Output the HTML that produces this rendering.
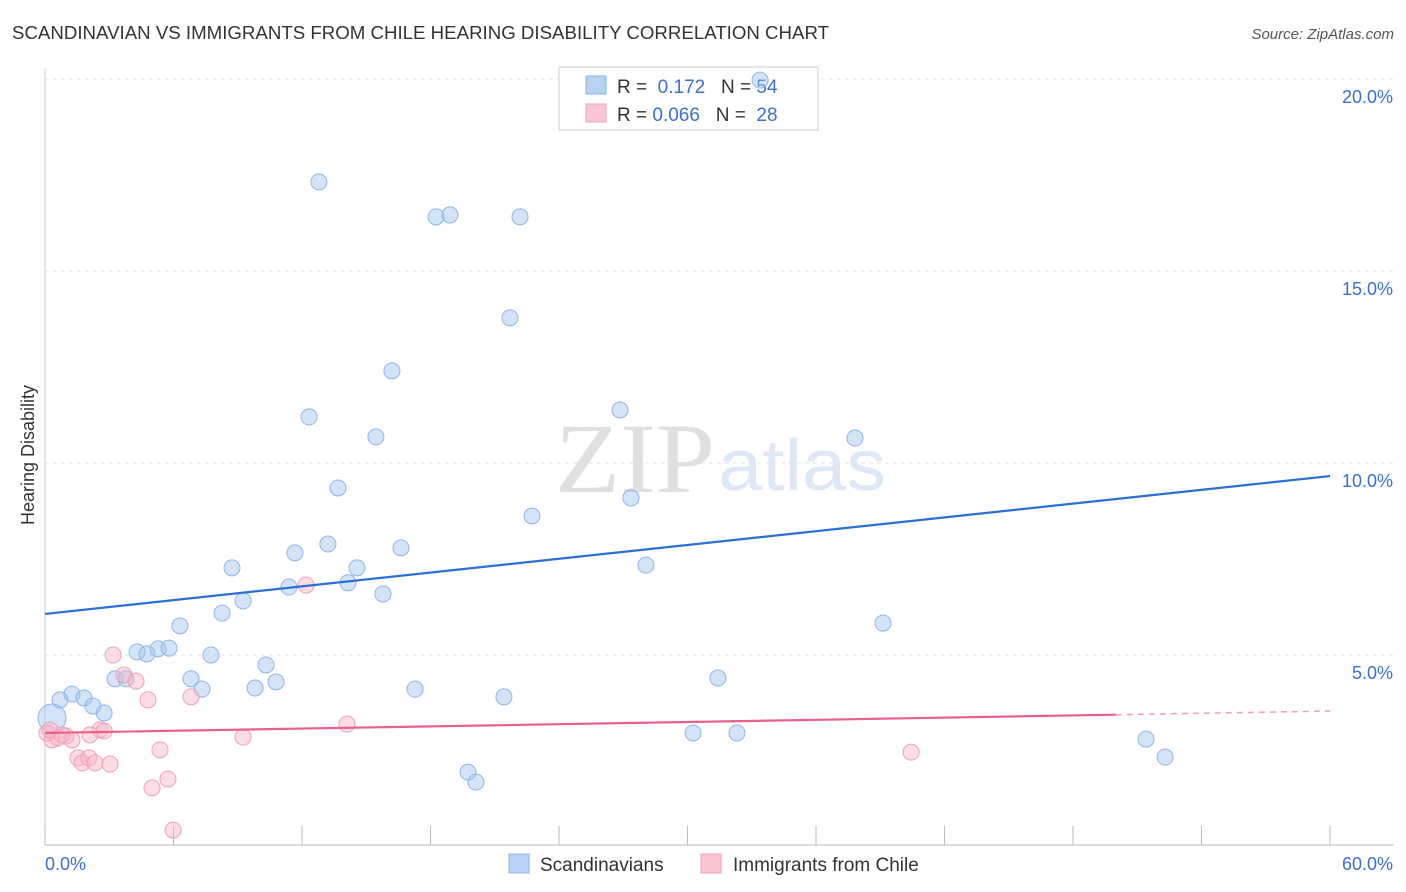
<!DOCTYPE html>
<html><head><meta charset="utf-8">
<style>
body{margin:0;background:#fff;font-family:"Liberation Sans",sans-serif;}
#wrap{position:relative;width:1406px;height:892px;overflow:hidden}
</style></head>
<body><div id="wrap">
<svg id="svg" width="1406" height="892" xmlns="http://www.w3.org/2000/svg">
<text x="12" y="39" font-size="18" fill="#333" textLength="817" lengthAdjust="spacingAndGlyphs">SCANDINAVIAN VS IMMIGRANTS FROM CHILE HEARING DISABILITY CORRELATION CHART</text>
<text x="1394" y="39" font-size="15" fill="#555" text-anchor="end" font-style="italic">Source: ZipAtlas.com</text>
<text x="555" y="492" font-size="100" fill="#e0e0e0" textLength="160" lengthAdjust="spacingAndGlyphs" font-family="Liberation Serif,serif">ZIP</text>
<text x="718" y="490" font-size="72" fill="#dde7f5" textLength="168" lengthAdjust="spacingAndGlyphs">atlas</text>
<text transform="translate(34,455) rotate(-90)" font-size="18" fill="#333" text-anchor="middle">Hearing Disability</text>
<g id="grid"></g>
<g>
<rect x="559" y="67" width="259" height="63" fill="#fff" stroke="#ccc"/>
<rect x="586" y="76" width="20" height="18" fill="#b8d2f4" stroke="#8fb5e8"/>
<rect x="586" y="104" width="20" height="18" fill="#f9c6d6" stroke="#f0a0b8"/>
<text x="617" y="93" font-size="19" fill="#333">R = <tspan fill="#3b6fd0">&#160;0.172</tspan>&#160;&#160;&#160;N = <tspan fill="#3b6fd0">54</tspan></text>
<text x="617" y="121" font-size="19" fill="#333">R = <tspan fill="#3b6fd0">0.066</tspan>&#160;&#160;&#160;N = <tspan fill="#3b6fd0">&#160;28</tspan></text>
</g>
<g id="marks"></g>
<g>
<rect x="509" y="854" width="20" height="19" fill="#b8d2f4" stroke="#8fb5e8"/>
<text x="540" y="871" font-size="19" fill="#333">Scandinavians</text>
<rect x="701" y="854" width="20" height="19" fill="#f9c6d6" stroke="#f0a0b8"/>
<text x="733" y="871" font-size="19" fill="#333">Immigrants from Chile</text>
</g>
<text x="45" y="870" font-size="18" fill="#3b6fd0">0.0%</text>
<text x="1393" y="870" font-size="18" fill="#3b6fd0" text-anchor="end">60.0%</text>
</svg></div>
<script>
const yTicks=[5,10,15,20];
const blueX=[0.33,0.70,1.26,1.82,2.24,2.76,3.27,3.78,4.30,4.76,5.28,5.79,6.30,6.82,7.33,7.75,8.27,8.73,9.25,9.81,10.32,10.79,11.39,11.67,12.33,12.79,13.21,13.68,14.15,14.57,15.45,15.78,16.20,16.62,17.28,18.26,18.91,19.75,20.12,21.43,21.71,22.18,22.74,26.85,27.36,28.06,30.26,31.42,32.31,33.39,37.82,39.13,51.41,52.30];
const blueY=[3.36,3.83,3.98,3.88,3.67,3.49,4.38,4.38,5.08,5.03,5.16,5.18,5.76,4.38,4.11,5.00,6.09,7.27,6.41,4.14,4.74,4.30,6.77,7.66,11.20,17.32,7.89,9.35,6.88,7.27,10.68,6.59,12.40,7.79,4.11,16.41,16.46,1.95,1.69,3.91,13.78,16.41,8.62,11.38,9.09,7.34,2.97,4.40,2.97,19.97,10.65,5.83,2.81,2.34];
const pinkX=[0.09,0.33,0.61,0.98,1.26,1.54,1.73,2.05,2.33,2.57,2.76,3.04,3.18,3.69,4.25,4.81,5.00,5.37,5.74,5.98,6.82,9.25,12.19,14.10,40.44,0.23,0.79,2.10];
const pinkY=[2.97,2.79,2.84,2.89,2.79,2.32,2.19,2.32,2.19,3.05,3.02,2.16,5.00,4.48,4.32,3.83,1.54,2.53,1.77,0.44,3.91,2.86,6.82,3.20,2.47,3.05,2.92,2.92];
const blueTrend=[6.07,9.66];
const pinkTrend=[2.97,3.54];
const pinkSolidEnd=50;
const NS="http://www.w3.org/2000/svg";
const sx=v=>45+v/60*1285, sy=v=>847-v*38.4;
function mk(tag,attrs,parent){const e=document.createElementNS(NS,tag);for(const k in attrs)e.setAttribute(k,attrs[k]);parent.appendChild(e);return e;}
const grid=document.getElementById('grid'), marks=document.getElementById('marks');
yTicks.forEach(t=>{
 const l=mk('line',{x1:45,x2:1394,y1:sy(t),y2:sy(t),stroke:'#e2e2e2','stroke-dasharray':'4,4'},grid);
 
 
 const tx=mk('text',{x:1393,y:sy(t)+24,'font-size':18,fill:'#3b6fd0','text-anchor':'end'},grid);
 tx.textContent=t.toFixed(1)+'%';
 
 
});
const ax=mk('line',{x1:45,x2:1394,y1:845,y2:845,stroke:'#bbb'},grid);


const ay=mk('line',{x1:45,x2:45,y1:68,y2:845,stroke:'#ccc'},grid);


for(let i=0;i<=10;i++){const t=mk('line',{x1:sx(i*6),x2:sx(i*6),y1:826,y2:845,stroke:'#bbb'},grid);
 
 }
blueX.forEach((x,i)=>{const c=mk('circle',{cx:sx(x),cy:sy(blueY[i]),r:i==0?14:8,fill:'rgba(160,196,240,0.45)',stroke:'#8fb5e8','stroke-width':1},marks);
 
 });
pinkX.forEach((x,i)=>{const c=mk('circle',{cx:sx(x),cy:sy(pinkY[i]),r:8,fill:'rgba(248,180,200,0.45)',stroke:'#f0a0b8','stroke-width':1},marks);
 
 });
const bl=mk('line',{x1:sx(0),y1:sy(blueTrend[0]),x2:sx(60),y2:sy(blueTrend[1]),stroke:'#2a6fd6','stroke-width':2.2},marks);


const pm=pinkTrend[0]+(pinkTrend[1]-pinkTrend[0])*pinkSolidEnd/60;
const pl=mk('line',{x1:sx(0),y1:sy(pinkTrend[0]),x2:sx(pinkSolidEnd),y2:sy(pm),stroke:'#e8608a','stroke-width':2.2},marks);


const pd=mk('line',{x1:sx(pinkSolidEnd),y1:sy(pm),x2:sx(60),y2:sy(pinkTrend[1]),stroke:'#f0a0b8','stroke-width':1.5,'stroke-dasharray':'6,5'},marks);


</script>
</body></html>
